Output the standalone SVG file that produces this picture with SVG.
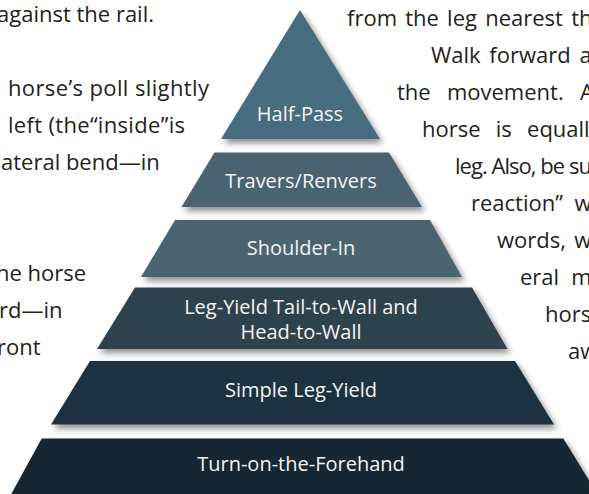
<svg xmlns="http://www.w3.org/2000/svg" width="589" height="494" viewBox="0 0 589 494">
  <defs>
    <filter id="sh" x="-10%" y="-10%" width="125%" height="140%">
      <feDropShadow dx="3" dy="4" stdDeviation="3" flood-color="#000" flood-opacity="0.45"/>
    </filter>
    <style>
      .body { font-family: "Open Sans", "Noto Sans", "Liberation Sans", sans-serif; font-size: 22px; fill: #231f20; }
      .lbl { font-family: "Open Sans", "Noto Sans", "Liberation Sans", sans-serif; font-size: 20px; fill: #f4f4f4; text-anchor: middle; }
      .tier { filter: url(#sh); }
    </style>
  </defs>
  <rect x="0" y="0" width="589" height="494" fill="#ffffff"/>

  <g id="text-left">
    <text class="body" x="-3" y="22">against the rail.</text>
    <text class="body" x="8" y="96" textLength="201" lengthAdjust="spacing">horse’s poll slightly</text>
    <text class="body" x="8" y="133" textLength="177" lengthAdjust="spacing">left (the“inside”is</text>
    <text class="body" x="1" y="170">ateral bend—in</text>
    <text class="body" x="-4" y="281">he horse</text>
    <text class="body" x="-1" y="318">rd—in</text>
    <text class="body" x="-3" y="355">ront</text>
  </g>

  <g id="text-right">
    <text class="body" x="347" y="26" word-spacing="2.5">from the leg nearest th</text>
    <text class="body" x="431" y="63" word-spacing="3">Walk forward a</text>
    <text class="body" x="397" y="100" word-spacing="10.5">the movement. A</text>
    <text class="body" x="422" y="137" word-spacing="9.5">horse is equall</text>
    <text class="body" x="455" y="174" textLength="137" lengthAdjust="spacing">leg. Also, be su</text>
    <text class="body" x="471" y="211" word-spacing="6">reaction” w</text>
    <text class="body" x="497" y="248" word-spacing="2.5">words, w</text>
    <text class="body" x="520" y="285" word-spacing="6.5">eral m</text>
    <text class="body" x="545" y="322">hors</text>
    <text class="body" x="568" y="359">aw</text>
  </g>

  <g id="tier-6">
    <polygon class="tier" points="41.7,438.5 563.3,438.5 601,500 8,500" fill="#172630"/>
    <text class="lbl" x="301" y="471">Turn-on-the-Forehand</text>
  </g>
  <g id="tier-5">
    <polygon class="tier" points="90,361 515,361 554,424.5 51,424.5" fill="#1a323f"/>
    <text class="lbl" x="301" y="397">Simple Leg-Yield</text>
  </g>
  <g id="tier-4">
    <polygon class="tier" points="135,287.5 472,287.5 507.5,349 97,349" fill="#2f434e"/>
    <text class="lbl" x="301" y="314">Leg-Yield Tail-to-Wall and</text>
    <text class="lbl" x="301" y="339">Head-to-Wall</text>
  </g>
  <g id="tier-3">
    <polygon class="tier" points="175,220 430,220 462,277 141,277" fill="#4b6570"/>
    <text class="lbl" x="301" y="255">Shoulder-In</text>
  </g>
  <g id="tier-2">
    <polygon class="tier" points="214.5,152.5 389,152.5 422,207 181.5,207" fill="#4a6470"/>
    <text class="lbl" x="301" y="188">Travers/Renvers</text>
  </g>
  <g id="tier-1">
    <polygon class="tier" points="300,10 380,139 221,139" fill="#476c80"/>
    <text class="lbl" x="300" y="121">Half-Pass</text>
  </g>
</svg>
